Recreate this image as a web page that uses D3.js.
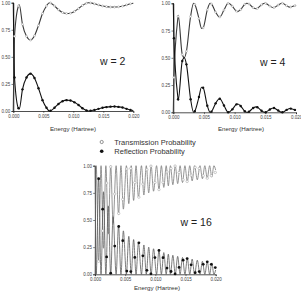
<!DOCTYPE html>
<html>
<head>
<meta charset="utf-8">
<script src="https://cdn.jsdelivr.net/npm/d3@7"></script>
<style>
  body { margin: 0; background: #fff; }
  svg { display: block; font-family: "Liberation Sans", Arial, sans-serif; }
</style>
</head>
<body>
<svg id="chart" width="301" height="293"></svg>
<script>
// rows are [energy (Hartree), transmission, reflection]
const xTicks = [0, 0.005, 0.010, 0.015, 0.020];
const yTicks = [0, 0.25, 0.50, 0.75, 1.00];
const legendLabels = ['Transmission Probability', 'Reflection Probability'];
const panelLabels = ['w = 2', 'w = 4', 'w = 16'];

// w = 2 : sampled points (drawn as markers, line goes through them)
const w2Marks = [
  [0.0002, 0.69, 0.31], [0.00087, 0.97, 0.025], [0.00153, 0.80, 0.20],
  [0.0022, 0.69, 0.31], [0.00287, 0.655, 0.345], [0.00353, 0.695, 0.305],
  [0.0042, 0.79, 0.21], [0.00487, 0.90, 0.10], [0.00553, 0.97, 0.03],
  [0.0062, 0.998, 0.002], [0.00687, 0.97, 0.03], [0.00753, 0.935, 0.065],
  [0.0082, 0.91, 0.09], [0.00887, 0.90, 0.10], [0.00953, 0.903, 0.097],
  [0.0102, 0.92, 0.08], [0.01087, 0.945, 0.055], [0.01153, 0.975, 0.025],
  [0.0122, 0.995, 0.005], [0.01287, 0.998, 0.002], [0.01353, 0.99, 0.01],
  [0.0142, 0.98, 0.02], [0.01487, 0.97, 0.03], [0.01553, 0.964, 0.036],
  [0.0162, 0.96, 0.04], [0.01687, 0.959, 0.041], [0.01753, 0.962, 0.038],
  [0.0182, 0.968, 0.032], [0.01887, 0.98, 0.02], [0.01953, 0.99, 0.01]
];
// w = 2 : extra points on the curve (ends and turning points)
const w2Extra = [
  [0, 0, 1], [0.001, 0.98, 0.02], [0.006, 1.0, 0.0], [0.0125, 1.0, 0.0],
  [0.02, 0.995, 0.005]
];

const w4Marks = [
  [0.0001, 0.32, 0.68], [0.00078, 0.88, 0.12], [0.00146, 0.53, 0.47],
  [0.00214, 0.56, 0.44], [0.00282, 0.88, 0.12], [0.0035, 0.99, 0.01],
  [0.00418, 0.86, 0.14], [0.00486, 0.775, 0.225], [0.00554, 0.94, 0.06],
  [0.00622, 0.994, 0.006], [0.0069, 0.918, 0.082], [0.00758, 0.875, 0.125],
  [0.00826, 0.938, 0.062], [0.00894, 1.0, 0.0], [0.00962, 0.973, 0.027],
  [0.0103, 0.927, 0.073], [0.01098, 0.942, 0.058], [0.01166, 0.991, 0.009],
  [0.01234, 0.994, 0.006], [0.01302, 0.96, 0.04], [0.0137, 0.953, 0.047],
  [0.01438, 0.986, 0.014], [0.01506, 0.999, 0.001], [0.01574, 0.974, 0.026],
  [0.01642, 0.961, 0.039], [0.0171, 0.984, 0.016], [0.01778, 1.0, 0.0],
  [0.01846, 0.978, 0.022], [0.01914, 0.966, 0.034], [0.01982, 0.978, 0.022]
];
const w4Extra = [
  [0, 0, 1], [0.0008, 0.89, 0.11], [0.0018, 0.50, 0.50], [0.0033, 1.0, 0.0],
  [0.0046, 0.77, 0.23], [0.006, 1.0, 0.0], [0.0075, 0.875, 0.125],
  [0.009, 1.0, 0.0], [0.0105, 0.924, 0.076], [0.012, 1.0, 0.0],
  [0.0135, 0.95, 0.05], [0.0149, 1.0, 0.0], [0.0163, 0.96, 0.04],
  [0.0177, 1.0, 0.0], [0.019, 0.965, 0.035], [0.02, 0.982, 0.018]
];

// w = 16 : the curve oscillates faster than the sampling, so line and markers are separate
const w16Line = [
  [0, 0, 1], [0.0002, 1, 0], [0.0006, 0.12, 0.88], [0.001, 1, 0],
  [0.0014, 0.24, 0.76], [0.0018, 1, 0], [0.0022, 0.37, 0.63], [0.0026, 1, 0],
  [0.003, 0.47, 0.53], [0.0035, 1, 0], [0.0039, 0.55, 0.45], [0.0043, 1, 0],
  [0.0047, 0.60, 0.40], [0.0052, 1, 0], [0.0056, 0.65, 0.35], [0.006, 1, 0],
  [0.0064, 0.68, 0.32], [0.0068, 1, 0], [0.0072, 0.71, 0.29], [0.0077, 1, 0],
  [0.0081, 0.73, 0.27], [0.0085, 1, 0], [0.0089, 0.75, 0.25], [0.0093, 1, 0],
  [0.0097, 0.765, 0.235], [0.0102, 1, 0], [0.0106, 0.78, 0.22], [0.011, 1, 0],
  [0.0114, 0.80, 0.20], [0.0118, 1, 0], [0.01215, 0.815, 0.185], [0.0125, 1, 0],
  [0.0129, 0.825, 0.175], [0.0133, 1, 0], [0.0137, 0.835, 0.165], [0.0141, 1, 0],
  [0.0145, 0.845, 0.155], [0.0149, 1, 0], [0.0153, 0.855, 0.145], [0.0157, 1, 0],
  [0.0161, 0.86, 0.14], [0.0165, 1, 0], [0.01695, 0.87, 0.13], [0.0174, 1, 0],
  [0.0178, 0.88, 0.12], [0.0182, 1, 0], [0.0186, 0.885, 0.115], [0.019, 1, 0],
  [0.01935, 0.895, 0.105], [0.0197, 1, 0], [0.02, 0.96, 0.04]
];
const w16Marks = [
  [0.0006, 0.12, 0.88], [0.00127, 0.40, 0.60], [0.00193, 0.84, 0.16],
  [0.0026, 0.99, 0.01], [0.00327, 0.74, 0.26], [0.00393, 0.56, 0.44],
  [0.0046, 0.69, 0.31], [0.00527, 0.97, 0.03], [0.00593, 0.975, 0.025],
  [0.0066, 0.845, 0.155], [0.00727, 0.71, 0.29], [0.00793, 0.83, 0.17],
  [0.0086, 0.963, 0.037], [0.00927, 0.996, 0.004], [0.00993, 0.846, 0.154],
  [0.0106, 0.78, 0.22], [0.01127, 0.847, 0.153], [0.01193, 0.943, 0.057],
  [0.0126, 0.974, 0.026], [0.01327, 0.997, 0.003], [0.01393, 0.937, 0.063],
  [0.0146, 0.87, 0.13], [0.01527, 0.855, 0.145], [0.01593, 0.913, 0.087],
  [0.0166, 0.985, 0.015], [0.01727, 0.975, 0.025], [0.01793, 0.908, 0.092],
  [0.0186, 0.885, 0.115], [0.01927, 0.908, 0.092], [0.01993, 0.938, 0.062]
];

const byEnergy = (a, b) => a[0] - b[0];

const panels = [
  { label: panelLabels[0], marks: w2Marks, line: w2Marks.concat(w2Extra).sort(byEnergy),
    box: { l: 13.3, r: 133.3, t: 2.7, b: 111 }, labelAt: [100, 65], titleAt: [73, 131],
    tColor: '#3a3a3a', rColor: '#111', lw: 1.1, mr: 1.0 },
  { label: panelLabels[1], marks: w4Marks, line: w4Marks.concat(w4Extra).sort(byEnergy),
    box: { l: 173.3, r: 296, t: 3.3, b: 112.3 }, labelAt: [260, 65.5], titleAt: [241, 131],
    tColor: '#3a3a3a', rColor: '#111', lw: 1.1, mr: 1.0 },
  { label: panelLabels[2], marks: w16Marks, line: w16Line,
    box: { l: 95, r: 215.7, t: 165.7, b: 274.3 }, labelAt: [180.5, 225.5], titleAt: [157, 289.5],
    tColor: '#7a7a7a', rColor: '#5a5a5a', lw: 0.8, mr: 1.2 }
];

const svg = d3.select('#chart');

panels.forEach(p => {
  const x = d3.scaleLinear().domain([0, 0.02]).range([p.box.l, p.box.r]);
  const y = d3.scaleLinear().domain([0, 1]).range([p.box.b, p.box.t]);
  const g = svg.append('g');

  const xAxis = g.append('g')
    .attr('transform', `translate(0,${p.box.b})`)
    .call(d3.axisBottom(x).tickValues(xTicks).tickFormat(d3.format('.3f')).tickSize(1.8).tickPadding(2));
  const yAxis = g.append('g')
    .attr('transform', `translate(${p.box.l},0)`)
    .call(d3.axisLeft(y).tickValues(yTicks).tickFormat(d3.format('.2f')).tickSize(1.8).tickPadding(1.2));
  [xAxis, yAxis].forEach(a => {
    a.select('.domain').attr('stroke', '#222').attr('stroke-width', 0.8);
    a.selectAll('.tick line').attr('stroke', '#222').attr('stroke-width', 0.6);
    a.selectAll('.tick text').attr('font-size', 4.5).attr('fill', '#444')
      .attr('font-family', '"Liberation Sans", Arial, sans-serif');
  });

  g.append('text')
    .attr('x', p.titleAt[0]).attr('y', p.titleAt[1])
    .attr('text-anchor', 'middle').attr('font-size', 6.2).attr('fill', '#333')
    .text('Energy (Hartree)');

  g.append('text')
    .attr('x', p.labelAt[0]).attr('y', p.labelAt[1])
    .attr('font-size', 10.5).attr('fill', '#222')
    .text(p.label);

  const tLine = d3.line().x(d => x(d[0])).y(d => y(d[1])).curve(d3.curveMonotoneX);
  const rLine = d3.line().x(d => x(d[0])).y(d => y(d[2])).curve(d3.curveMonotoneX);

  g.append('path').datum(p.line).attr('d', tLine)
    .attr('fill', 'none').attr('stroke', p.tColor).attr('stroke-width', p.lw);
  g.append('path').datum(p.line).attr('d', rLine)
    .attr('fill', 'none').attr('stroke', p.rColor).attr('stroke-width', p.lw);

  g.selectAll('circle.t').data(p.marks).join('circle')
    .attr('class', 't')
    .attr('cx', d => x(d[0])).attr('cy', d => y(d[1])).attr('r', p.mr)
    .attr('fill', '#fff').attr('stroke', '#999').attr('stroke-width', 0.5);
  g.selectAll('circle.r').data(p.marks).join('circle')
    .attr('class', 'r')
    .attr('cx', d => x(d[0])).attr('cy', d => y(d[2])).attr('r', p.mr + 0.2)
    .attr('fill', '#111');
});

// legend
const legend = svg.append('g');
legend.append('circle').attr('cx', 101.7).attr('cy', 142).attr('r', 1.6)
  .attr('fill', '#fff').attr('stroke', '#666').attr('stroke-width', 0.7);
legend.append('circle').attr('cx', 101.7).attr('cy', 151.3).attr('r', 1.8)
  .attr('fill', '#111');
legend.selectAll('text').data(legendLabels).join('text')
  .attr('x', 114.3).attr('y', (d, i) => 144.6 + i * 9.3)
  .attr('font-size', 7.5).attr('fill', '#333')
  .text(d => d);
</script>
</body>
</html>
